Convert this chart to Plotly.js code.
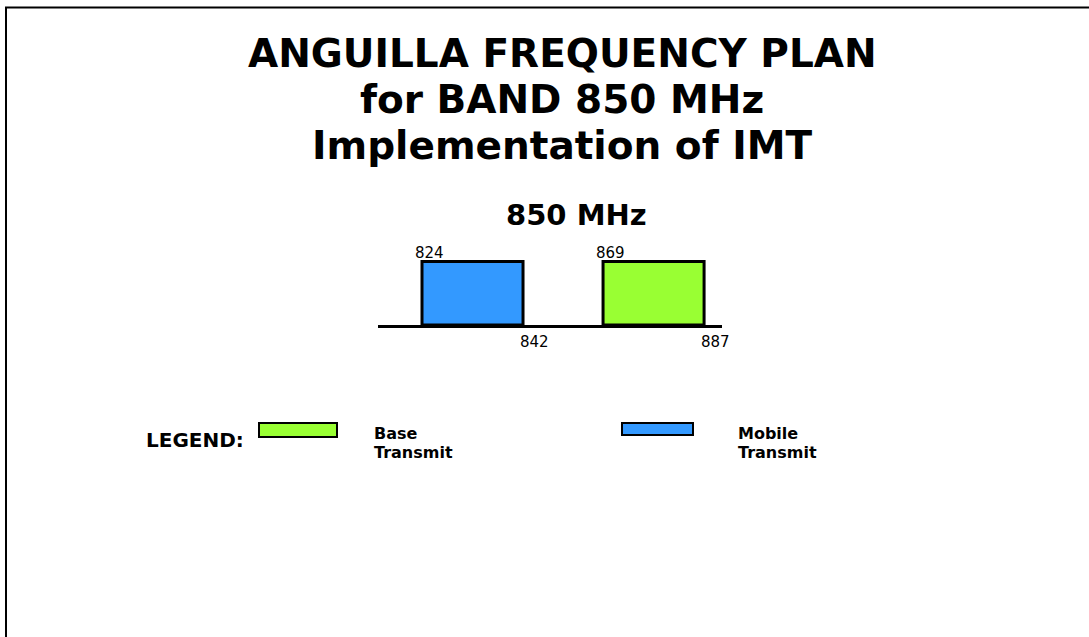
<!DOCTYPE html>
<html>
<head>
<meta charset="utf-8">
<script src="https://cdn.plot.ly/plotly-3.0.1.min.js"></script>
<style>html,body{margin:0;padding:0;background:#fff;}</style>
</head>
<body>
<div id="chart" style="width:1089px;height:637px;"></div>
<script>
// ---- data ----
const titleLines = ["ANGUILLA FREQUENCY PLAN", "for BAND 850 MHz", "Implementation of IMT"];
const bandTitle = "850 MHz";
const bandNames = ["Mobile Transmit", "Base Transmit"];
const bandLow = [824, 869];
const bandHigh = [842, 887];
const bandLevel = [1, 1];
const legendLabel = "LEGEND:";
const legendOrder = ["Base Transmit", "Mobile Transmit"];
const legendLines = [["Base", "Transmit"], ["Mobile", "Transmit"]];

// ---- styling ----
const colors = {"Mobile Transmit": "#3399FF", "Base Transmit": "#99FF33"};
const W = 1089, H = 637;
const M = {l: 378, r: 367, t: 245, b: 312};
const plotW = W - M.l - M.r, plotH = H - M.t - M.b;
const baseY = H - M.b;
const px = x => (x - M.l) / plotW;
const py = y => (baseY - y) / plotH;
const barWidth = 0.558;
const boldFont = "DejaVu Sans, sans-serif";

const trace = {
  type: "bar",
  x: bandNames,
  y: bandLevel,
  width: barWidth,
  marker: {color: bandNames.map(n => colors[n]), line: {color: "#000", width: 3}},
  hoverinfo: "skip",
  showlegend: false
};

const annotations = [];
// title lines
const titleY = [53, 99.5, 145];
titleLines.forEach((t, i) => annotations.push({
  text: "<b>" + t + "</b>", xref: "paper", yref: "paper",
  x: px(562), y: py(titleY[i]), xanchor: "center", yanchor: "middle",
  showarrow: false, borderpad: 0, font: {family: boldFont, size: 39, color: "#000"}
}));
annotations.push({
  text: "<b>" + bandTitle + "</b>", xref: "paper", yref: "paper",
  x: px(576), y: py(215), xanchor: "center", yanchor: "middle",
  showarrow: false, font: {family: boldFont, size: 29, color: "#000"}
});
// frequency labels
bandNames.forEach((n, i) => {
  annotations.push({
    text: String(bandLow[i]), xref: "x", yref: "y",
    x: i - barWidth / 2, y: bandLevel[i], xanchor: "left", yanchor: "bottom",
    xshift: -9, yshift: -2, showarrow: false,
    font: {family: "DejaVu Sans, sans-serif", size: 15, color: "#000"}
  });
  annotations.push({
    text: String(bandHigh[i]), xref: "x", yref: "y",
    x: i + barWidth / 2, y: 0, xanchor: "left", yanchor: "top",
    xshift: -5, yshift: -6, showarrow: false,
    font: {family: "DejaVu Sans, sans-serif", size: 15, color: "#000"}
  });
});
// legend texts
annotations.push({
  text: "<b>" + legendLabel + "</b>", xref: "paper", yref: "paper",
  x: px(144), y: py(440), xanchor: "left", yanchor: "middle",
  showarrow: false, font: {family: boldFont, size: 20, color: "#000"}
});
const legendTextX = [373, 737];
const legendLineY = [433, 452];
legendLines.forEach((lines, i) => lines.forEach((t, j) => annotations.push({
  text: "<b>" + t + "</b>", xref: "paper", yref: "paper",
  x: px(legendTextX[i]), y: py(legendLineY[j]), xanchor: "left", yanchor: "middle",
  showarrow: false, borderpad: 0, font: {family: boldFont, size: 16, color: "#000"}
})));

const shapes = [
  // frame
  {type: "line", xref: "paper", yref: "paper", x0: px(6), x1: px(6), y0: py(7), y1: py(H + 5), line: {color: "#000", width: 2}},
  {type: "line", xref: "paper", yref: "paper", x0: px(5), x1: px(W + 5), y0: py(7.5), y1: py(7.5), line: {color: "#000", width: 2}},
  // legend swatches
  {type: "rect", xref: "paper", yref: "paper", x0: px(259), x1: px(337), y0: py(423), y1: py(437), fillcolor: colors[legendOrder[0]], line: {color: "#000", width: 2}},
  {type: "rect", xref: "paper", yref: "paper", x0: px(622), x1: px(693), y0: py(423), y1: py(435), fillcolor: colors[legendOrder[1]], line: {color: "#000", width: 2}}
];

const layout = {
  width: W, height: H,
  margin: M,
  paper_bgcolor: "#fff", plot_bgcolor: "#fff",
  showlegend: false,
  xaxis: {
    type: "category", range: [-0.522, 1.378], fixedrange: true,
    showline: true, linecolor: "#000", linewidth: 3, mirror: false,
    showgrid: false, zeroline: false, ticks: "", showticklabels: false
  },
  yaxis: {
    range: [0, plotH / 63.5], fixedrange: true,
    showline: false, showgrid: false, zeroline: false, ticks: "", showticklabels: false
  },
  annotations: annotations,
  shapes: shapes
};

Plotly.newPlot("chart", [trace], layout, {displayModeBar: false, staticPlot: true});
</script>
</body>
</html>
